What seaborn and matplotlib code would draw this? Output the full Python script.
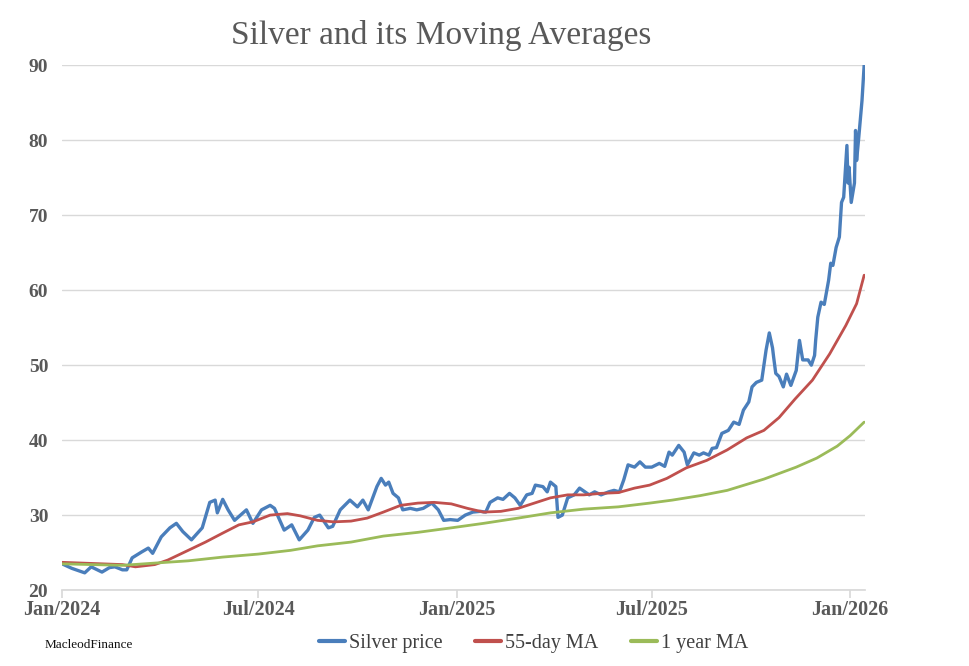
import pandas as pd
import seaborn as sns
import matplotlib.pyplot as plt
import matplotlib.dates as mdates

# Silver spot price
silver_dates = [
    "2024-01-01", "2024-01-10", "2024-01-22", "2024-01-28", "2024-02-07", "2024-02-14",
    "2024-02-19", "2024-02-26", "2024-03-01", "2024-03-06", "2024-03-15", "2024-03-21",
    "2024-03-25", "2024-04-02", "2024-04-10", "2024-04-16", "2024-04-22", "2024-04-30",
    "2024-05-10", "2024-05-17", "2024-05-22", "2024-05-24", "2024-05-29", "2024-06-03",
    "2024-06-09", "2024-06-20", "2024-06-26", "2024-07-04", "2024-07-12", "2024-07-16",
    "2024-07-21", "2024-07-25", "2024-08-01", "2024-08-08", "2024-08-16", "2024-08-22",
    "2024-08-27", "2024-09-04", "2024-09-08", "2024-09-15", "2024-09-24", "2024-10-01",
    "2024-10-06", "2024-10-11", "2024-10-19", "2024-10-23", "2024-10-27", "2024-10-30",
    "2024-11-03", "2024-11-08", "2024-11-12", "2024-11-19", "2024-11-25", "2024-12-01",
    "2024-12-09", "2024-12-15", "2024-12-20", "2024-12-26", "2025-01-02", "2025-01-09",
    "2025-01-16", "2025-01-23", "2025-01-28", "2025-02-01", "2025-02-08", "2025-02-13",
    "2025-02-19", "2025-02-24", "2025-03-01", "2025-03-07", "2025-03-12", "2025-03-15",
    "2025-03-22", "2025-03-26", "2025-03-29", "2025-04-03", "2025-04-05", "2025-04-09",
    "2025-04-14", "2025-04-20", "2025-04-25", "2025-04-30", "2025-05-04", "2025-05-09",
    "2025-05-15", "2025-05-22", "2025-05-27", "2025-06-01", "2025-06-05", "2025-06-09",
    "2025-06-15", "2025-06-20", "2025-06-25", "2025-07-01", "2025-07-08", "2025-07-13",
    "2025-07-17", "2025-07-20", "2025-07-26", "2025-07-31", "2025-08-03", "2025-08-09",
    "2025-08-14", "2025-08-18", "2025-08-23", "2025-08-26", "2025-08-30", "2025-09-04",
    "2025-09-10", "2025-09-15", "2025-09-20", "2025-09-24", "2025-09-29", "2025-10-02",
    "2025-10-06", "2025-10-11", "2025-10-15", "2025-10-18", "2025-10-21", "2025-10-22",
    "2025-10-24", "2025-10-27", "2025-10-31", "2025-11-03", "2025-11-07", "2025-11-12",
    "2025-11-15", "2025-11-18", "2025-11-23", "2025-11-26", "2025-11-29", "2025-11-30",
    "2025-12-02", "2025-12-05", "2025-12-08", "2025-12-12", "2025-12-14", "2025-12-16",
    "2025-12-19", "2025-12-22", "2025-12-24", "2025-12-26", "2025-12-29", "2025-12-30",
    "2025-12-31", "2026-01-02", "2026-01-05", "2026-01-06", "2026-01-07", "2026-01-09",
    "2026-01-12", "2026-01-14",
]
silver_price = [
    23.5, 22.9, 22.3, 23.1, 22.4, 23.0,
    23.1, 22.7, 22.7, 24.3, 25.1, 25.6,
    24.9, 27.1, 28.3, 28.9, 27.8, 26.7,
    28.3, 31.7, 32.0, 30.3, 32.1, 30.7,
    29.3, 30.7, 28.9, 30.7, 31.3, 30.9,
    29.3, 28.0, 28.7, 26.7, 28.0, 29.7,
    30.0, 28.3, 28.5, 30.7, 32.0, 31.1,
    32.0, 30.7, 33.8, 34.9, 34.0, 34.4,
    32.9, 32.3, 30.7, 30.9, 30.7, 30.9,
    31.6, 30.7, 29.3, 29.4, 29.3, 30.0,
    30.4, 30.5, 30.4, 31.7, 32.3, 32.1,
    32.9, 32.3, 31.3, 32.7, 32.9, 34.0,
    33.8, 33.1, 34.4, 33.8, 29.7, 30.0,
    32.3, 32.7, 33.6, 33.1, 32.7, 33.1,
    32.7, 33.1, 33.3, 33.1, 34.7, 36.7,
    36.4, 37.1, 36.4, 36.4, 36.9, 36.5,
    38.4, 38.0, 39.3, 38.4, 36.7, 38.3,
    38.0, 38.3, 38.0, 38.9, 39.0, 40.9,
    41.3, 42.4, 42.1, 44.0, 45.1, 47.1,
    47.7, 48.0, 52.0, 54.3, 52.3, 51.1,
    48.9, 48.5, 47.1, 48.8, 47.3, 49.3,
    53.3, 50.7, 50.7, 50.0, 51.3, 53.3,
    56.4, 58.4, 58.1, 61.3, 63.6, 63.3,
    65.7, 67.1, 71.7, 72.4, 79.3, 74.3,
    76.4, 71.7, 74.3, 81.3, 77.3, 80.4,
    85.3, 90.0,
]

# 55-day moving average
ma55_dates = [
    "2024-01-01", "2024-02-26", "2024-03-09", "2024-03-27", "2024-04-08", "2024-04-27",
    "2024-05-13", "2024-05-29", "2024-06-13", "2024-06-26", "2024-07-12", "2024-07-28",
    "2024-08-09", "2024-08-25", "2024-09-09", "2024-09-25", "2024-10-10", "2024-10-25",
    "2024-11-10", "2024-11-26", "2024-12-11", "2024-12-27", "2025-01-11", "2025-01-26",
    "2025-02-11", "2025-02-27", "2025-03-14", "2025-03-29", "2025-04-14", "2025-04-29",
    "2025-05-15", "2025-05-31", "2025-06-15", "2025-06-29", "2025-07-15", "2025-08-02",
    "2025-08-21", "2025-09-09", "2025-09-27", "2025-10-13", "2025-10-27", "2025-11-11",
    "2025-11-27", "2025-12-13", "2025-12-28", "2026-01-07", "2026-01-14",
]
ma55 = [
    23.7, 23.4, 23.1, 23.4, 24.0, 25.3,
    26.4, 27.6, 28.7, 29.1, 30.0, 30.2,
    29.9, 29.3, 29.1, 29.2, 29.6, 30.4,
    31.3, 31.6, 31.7, 31.5, 30.9, 30.4,
    30.5, 30.9, 31.6, 32.3, 32.7, 32.7,
    32.9, 33.0, 33.6, 34.0, 34.9, 36.3,
    37.3, 38.7, 40.3, 41.3, 43.0, 45.5,
    48.0, 51.5, 55.3, 58.2, 62.0,
]

# 1 year moving average
ma1y_dates = [
    "2024-01-01", "2024-02-26", "2024-03-27", "2024-04-27", "2024-05-29", "2024-07-01",
    "2024-07-31", "2024-08-25", "2024-09-25", "2024-10-25", "2024-11-26", "2024-12-27",
    "2025-01-26", "2025-02-27", "2025-03-29", "2025-04-29", "2025-05-31", "2025-06-29",
    "2025-07-20", "2025-08-15", "2025-09-09", "2025-10-13", "2025-11-12", "2025-12-01",
    "2025-12-20", "2026-01-01", "2026-01-14",
]
ma1y = [
    23.5, 23.3, 23.6, 23.9, 24.4, 24.8,
    25.3, 25.9, 26.4, 27.2, 27.7, 28.3,
    28.9, 29.6, 30.3, 30.8, 31.1, 31.6,
    32.0, 32.6, 33.3, 34.8, 36.4, 37.6,
    39.2, 40.6, 42.4,
]

series_names = ["Silver price", "55-day MA", "1 year MA"]
colors = ["#4a7ebb", "#c0504d", "#9bbb59"]

df = pd.concat([
    pd.DataFrame({"date": pd.to_datetime(silver_dates), "value": silver_price, "series": series_names[0]}),
    pd.DataFrame({"date": pd.to_datetime(ma55_dates), "value": ma55, "series": series_names[1]}),
    pd.DataFrame({"date": pd.to_datetime(ma1y_dates), "value": ma1y, "series": series_names[2]}),
])

sns.set_theme(style="white")
plt.rcParams["font.family"] = ["Liberation Serif", "DejaVu Serif"]

fig = plt.figure(figsize=(9.7, 6.66), dpi=100)
ax = fig.add_axes([0.064, 0.114, 0.828, 0.788])

for name, color, lw in zip(series_names, colors, [2.4, 2.0, 2.0]):
    sns.lineplot(
        data=df[df["series"] == name], x="date", y="value",
        ax=ax, color=color, linewidth=lw, label=name, estimator=None, sort=True,
    )

ax.set_ylim(20, 90)
ax.set_yticks(range(20, 91, 10))
ax.set_xlim(pd.Timestamp("2024-01-01"), pd.Timestamp("2026-01-15"))
ax.xaxis.set_major_locator(mdates.MonthLocator(bymonth=[1, 7]))
ax.xaxis.set_major_formatter(mdates.DateFormatter("%b/%Y"))

ax.grid(axis="y", color="#d9d9d9", linewidth=1)
ax.grid(axis="x", visible=False)
for side in ["left", "right", "top"]:
    ax.spines[side].set_visible(False)
ax.spines["bottom"].set_color("#d9d9d9")
ax.tick_params(axis="x", bottom=True, length=6, color="#d9d9d9", pad=1,
               labelsize=14.5, labelcolor="#595959")
ax.tick_params(axis="y", left=False, length=0, pad=10, labelsize=14, labelcolor="#595959")
for lab in ax.get_xticklabels() + ax.get_yticklabels():
    lab.set_fontweight("bold")
ax.set_xlabel("")
ax.set_ylabel("")

ax.legend_.remove()
handles, labels = ax.get_legend_handles_labels()
leg = fig.legend(handles, labels, loc="center", bbox_to_anchor=(0.55, 0.034), ncol=3,
                 frameon=False, fontsize=14.5, handlelength=1.3, handletextpad=0.2,
                 columnspacing=1.6, labelcolor="#404040")
for line in leg.get_lines():
    line.set_linewidth(3)

fig.text(0.455, 0.946, "Silver and its Moving Averages", ha="center", va="center",
         fontsize=24, color="#595959")
fig.text(0.046, 0.031, "MacleodFinance", ha="left", va="center", fontsize=9.5, color="#111111")

plt.savefig("out.png", dpi=100)
